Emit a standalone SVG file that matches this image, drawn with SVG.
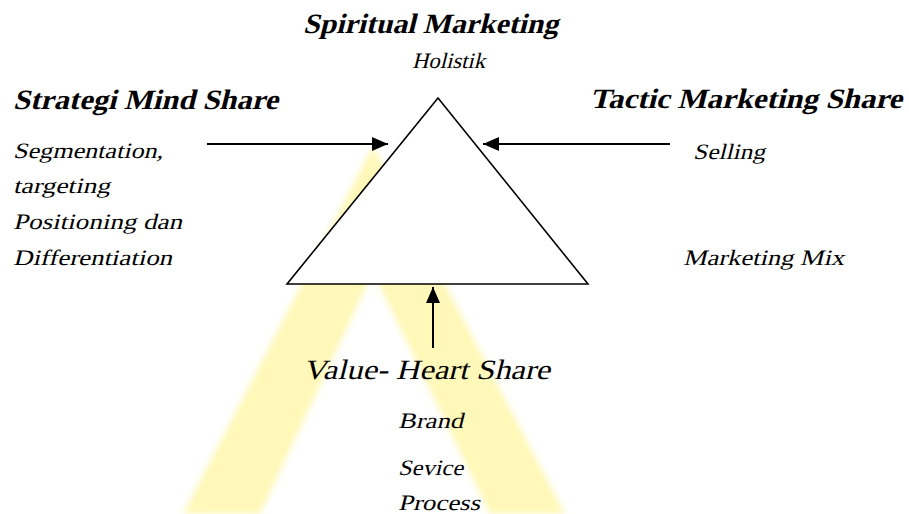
<svg xmlns="http://www.w3.org/2000/svg" width="909" height="514" viewBox="0 0 909 514">
  <style>
    .lbl { font-family: 'Liberation Serif', 'Times New Roman', serif; font-style: normal; fill: #000; }
    .title { font-weight: bold; font-size: 28px; }
    .item { font-size: 22px; }
    .big { font-size: 28px; }
    .edge { stroke: #000; stroke-width: 2; fill: none; }
  </style>
  <defs>
    <marker id="head" markerUnits="userSpaceOnUse" markerWidth="16" markerHeight="14" refX="16" refY="7" orient="auto">
      <path d="M0,0 L16,7 L0,14 z" fill="#000"/>
    </marker>
    <filter id="soft" x="-10%" y="-10%" width="120%" height="120%">
      <feGaussianBlur stdDeviation="3"/>
    </filter>
  </defs>

  <rect width="909" height="514" fill="#fff"/>

  <!-- light beams behind the pyramid -->
  <polygon points="373,146 183,514 260,514 373,272 490,514 565,514" fill="#fff8b8" filter="url(#soft)"/>

  <!-- pyramid -->
  <g id="pyramid">
    <polygon points="438,98 287,284 588,284" fill="#fff" stroke="#000" stroke-width="1.6"/>
  </g>

  <g id="connectors">
    <line class="edge" x1="207" y1="144" x2="388" y2="144" marker-end="url(#head)"/>
    <line class="edge" x1="670" y1="144" x2="483" y2="144" marker-end="url(#head)"/>
    <line class="edge" x1="433" y1="348" x2="433" y2="287" marker-end="url(#head)"/>
  </g>

  <!-- labels: upright serif slanted by a skew -->
  <g id="spiritual">
    <text class="lbl title" transform="translate(303,33) skewX(-14)" textLength="255" lengthAdjust="spacingAndGlyphs">Spiritual Marketing</text>
    <text class="lbl item" transform="translate(412,68) skewX(-14)" textLength="73" lengthAdjust="spacingAndGlyphs">Holistik</text>
  </g>

  <g id="mind-share">
    <text class="lbl title" transform="translate(13,109) skewX(-14)" textLength="265" lengthAdjust="spacingAndGlyphs">Strategi Mind Share</text>
    <text class="lbl item" transform="translate(13,158) skewX(-14)" textLength="150" lengthAdjust="spacingAndGlyphs">Segmentation,</text>
    <text class="lbl item" transform="translate(13,193) skewX(-14)" textLength="97" lengthAdjust="spacingAndGlyphs">targeting</text>
    <text class="lbl item" transform="translate(13,229) skewX(-14)" textLength="169" lengthAdjust="spacingAndGlyphs">Positioning dan</text>
    <text class="lbl item" transform="translate(13,265) skewX(-14)" textLength="159" lengthAdjust="spacingAndGlyphs">Differentiation</text>
  </g>

  <g id="marketing-share">
    <text class="lbl title" transform="translate(590,108) skewX(-14)" textLength="312" lengthAdjust="spacingAndGlyphs">Tactic Marketing Share</text>
    <text class="lbl item" transform="translate(693,159) skewX(-14)" textLength="72" lengthAdjust="spacingAndGlyphs">Selling</text>
    <text class="lbl item" transform="translate(683,265) skewX(-14)" textLength="161" lengthAdjust="spacingAndGlyphs">Marketing Mix</text>
  </g>

  <g id="heart-share">
    <text class="lbl big" transform="translate(303,379) skewX(-14)" textLength="247" lengthAdjust="spacingAndGlyphs">Value- Heart Share</text>
    <text class="lbl item" transform="translate(398,428) skewX(-14)" textLength="65" lengthAdjust="spacingAndGlyphs">Brand</text>
    <text class="lbl item" transform="translate(398,475) skewX(-14)" textLength="65" lengthAdjust="spacingAndGlyphs">Sevice</text>
    <text class="lbl item" transform="translate(398,510) skewX(-14)" textLength="82" lengthAdjust="spacingAndGlyphs">Process</text>
  </g>
</svg>
